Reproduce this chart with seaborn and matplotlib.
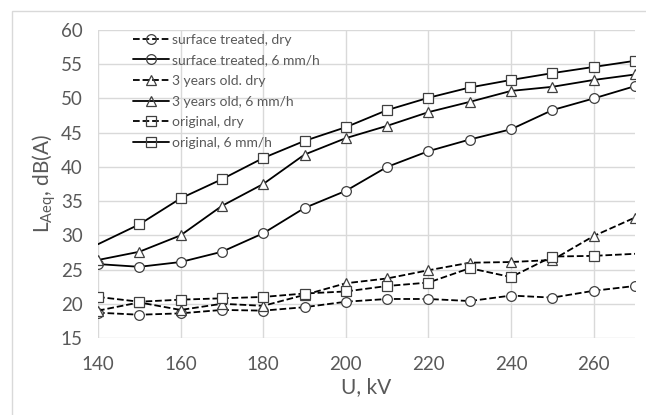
import numpy as np
import pandas as pd
import seaborn as sns
import matplotlib.pyplot as plt
from matplotlib.patches import Rectangle

voltage = [140, 150, 160, 170, 180, 190, 200, 210, 220, 230, 240, 250, 260, 270]

surface_dry = [18.7, 18.4, 18.6, 19.1, 19.0, 19.5, 20.3, 20.7, 20.7, 20.4, 21.2, 20.9, 21.9, 22.6]
surface_wet = [25.8, 25.4, 26.1, 27.6, 30.3, 34.0, 36.5, 40.0, 42.3, 44.0, 45.5, 48.3, 50.0, 51.8]
old_dry = [19.0, 20.2, 19.1, 20.0, 19.7, 21.3, 23.0, 23.7, 24.9, 26.0, 26.1, 26.4, 29.9, 32.6]
old_wet = [26.4, 27.6, 30.0, 34.3, 37.5, 41.8, 44.2, 46.0, 48.0, 49.5, 51.1, 51.7, 52.7, 53.5]
orig_dry = [21.0, 20.3, 20.6, 20.8, 21.0, 21.5, 21.8, 22.6, 23.1, 25.2, 23.9, 26.9, 27.0, 27.3]
orig_wet = [28.7, 31.6, 35.4, 38.2, 41.3, 43.8, 45.8, 48.3, 50.1, 51.6, 52.7, 53.7, 54.6, 55.5]

labels = ["surface treated, dry", "surface treated, 6 mm/h",
          "3 years old. dry", "3 years old, 6 mm/h",
          "original, dry", "original, 6 mm/h"]

sns.set_theme(style="whitegrid")
plt.rcParams['font.family'] = ['Lato', 'DejaVu Sans']
plt.rcParams['mathtext.fontset'] = 'custom'
plt.rcParams['mathtext.rm'] = 'Lato'
plt.rcParams['mathtext.it'] = 'Lato'

txt = '#595959'
fig = plt.figure(figsize=(6.46, 4.15), dpi=100)
ax = fig.add_axes([98 / 646, 1 - 338 / 415, (635 - 98) / 646, (338 - 30) / 415])

series = [
    (surface_dry, 'o', '--', None),
    (surface_wet, 'o', '-', None),
    (old_dry, '^', '--', None),
    (old_wet, '^', '-', None),
    (orig_dry, 's', '--', list(range(0, 13))),
    (orig_wet, 's', '-', list(range(1, 14))),
]

for (vals, mk, ls, every), lab in zip(series, labels):
    df = pd.DataFrame({'U': voltage, 'L': vals})
    sns.lineplot(data=df, x='U', y='L', ax=ax, color='black', linestyle=ls,
                 linewidth=1.3, marker=mk, markersize=7 if mk != '^' else 6.5,
                 markerfacecolor='white', markeredgecolor='#404040',
                 markeredgewidth=0.9, markevery=every, label=lab,
                 dashes=(4, 3) if ls == '--' else (None, None))

ax.set_xlim(140, 270)
ax.set_ylim(15, 60)
ax.set_xticks(range(140, 261, 20))
ax.set_yticks(range(15, 61, 5))
ax.grid(True, color='#d9d9d9', linewidth=1.0)
for s in ax.spines.values():
    s.set_visible(False)
ax.tick_params(axis='both', labelsize=13.5, colors=txt, length=0)
ax.tick_params(axis='x', pad=13)
ax.tick_params(axis='y', pad=11)
ax.set_xlabel('U, kV', fontsize=15, color=txt, labelpad=3)
ax.set_ylabel('$\\mathregular{L_{Aeq}}$, dB(A)', fontsize=15, color=txt, labelpad=2)

leg = ax.legend(loc='upper left', bbox_to_anchor=(0.05, 1.015), frameon=False,
                fontsize=10, handlelength=2.6, labelspacing=0.62,
                handletextpad=0.2, borderaxespad=0.2)
for t in leg.get_texts():
    t.set_color(txt)
for h in leg.legend_handles:
    h.set_markerfacecolor('none')

fig.patches.append(Rectangle((12 / 646, -0.01), 1.0, 1 - 11 / 415 + 0.01,
                             transform=fig.transFigure, fill=False,
                             edgecolor='#d9d9d9', linewidth=1.0))

fig.savefig('out.png', dpi=100)
